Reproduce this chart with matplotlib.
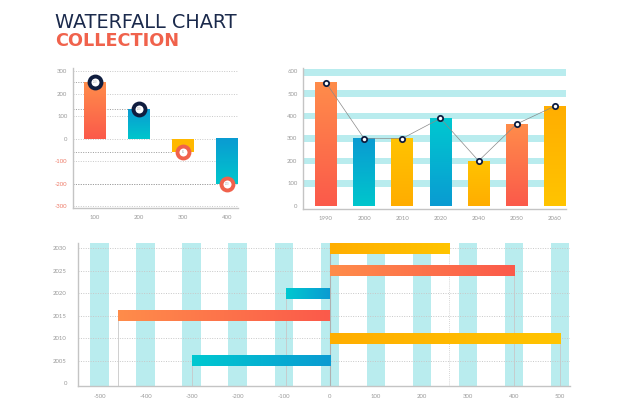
import numpy as np
import matplotlib
matplotlib.use("Agg")
import matplotlib.pyplot as plt
from matplotlib.colors import to_rgb

# ---------------- data ----------------
wf_x = [100, 200, 300, 400]
wf_vals = [250, 130, -60, -200]
wf_yticks = [300, 200, 100, 0, -100, -200, -300]

bar_years = ['1990', '2000', '2010', '2020', '2040', '2050', '2060']
bar_vals = [550, 300, 300, 390, 200, 365, 445]
bar_yticks = [0, 100, 200, 300, 400, 500, 600]

h_labels = ['0', '2005', '2010', '2015', '2020', '2025', '2030']
h_vals = [0, -300, 500, -460, -95, 400, 260]
h_xticks = [-500, -400, -300, -200, -100, 0, 100, 200, 300, 400, 500]

# ---------------- styles ----------------
ORANGE = ('#ff8c4a', '#fb5a4b')    # (start, end)
BLUE = ('#0a9bd2', '#00c6cc')
CYAN = ('#00c8d0', '#0a9bd2')
YELLOW = ('#ffc300', '#ffad00')
YELLOW2 = ('#ffae00', '#ffc400')
NAVY = '#0f1d3f'
CORAL = '#f0624c'
BAND = '#b9ecee'
GRID = '#c8c8c8'
AXC = '#c4c4c4'
TICKC = '#9a9a9a'
FONT = ['Lato', 'DejaVu Sans']
TFONT = ['DejaVu Sans']

plt.rcParams['font.family'] = FONT

W, H = 626, 417
fig = plt.figure(figsize=(W / 100, H / 100), dpi=100)


def fax(l, t, r, b):
    return fig.add_axes([l / W, 1 - b / H, (r - l) / W, (b - t) / H])


def grad(ax, x0, x1, y0, y1, c_a, c_b, vertical=True, z=3):
    """vertical: c_a at top, c_b at bottom; horizontal: c_a left, c_b right"""
    n = 64
    t = np.linspace(0, 1, n)[:, None]
    a = np.array(to_rgb(c_a))[None, :]
    b = np.array(to_rgb(c_b))[None, :]
    if vertical:
        arr = (b * (1 - t) + a * t)[:, None, :]   # bottom -> top
    else:
        arr = (a * (1 - t) + b * t)[None, :, :]   # left -> right
    ax.imshow(arr, extent=(min(x0, x1), max(x0, x1), min(y0, y1), max(y0, y1)),
              origin='lower', aspect='auto', interpolation='bilinear', zorder=z)


def style_axes(ax):
    for s in ['top', 'right']:
        ax.spines[s].set_visible(False)
    for s in ['left', 'bottom']:
        ax.spines[s].set_color(AXC)
        ax.spines[s].set_linewidth(1.0)
    ax.tick_params(length=0, labelsize=4.3, colors=TICKC, pad=4)
    ax.set_facecolor('none')


# ---------------- title ----------------
fig.text(55 / W, 1 - 28.5 / H, 'WATERFALL CHART', fontsize=13.9, color='#1b2a4c',
         family=TFONT, va='baseline', ha='left')
fig.text(55 / W, 1 - 46.5 / H, 'COLLECTION', fontsize=12.7, color=CORAL,
         family=TFONT, fontweight='bold', va='baseline', ha='left')

# ---------------- chart 1: waterfall ----------------
ax1 = fax(73, 68, 238, 208)
style_axes(ax1)
ax1.set_xlim(50, 425)
ax1.set_ylim(-307, 313)
for v in wf_yticks:
    ax1.axhline(v, color=GRID, lw=0.7, ls=(0, (1, 1.5)), zorder=1)
wf_cols = [ORANGE, BLUE, None, BLUE]
bw = 48
for i, (x, v) in enumerate(zip(wf_x, wf_vals)):
    ax1.plot([50, x - bw / 2], [v, v], color='#9a9a9a', lw=0.7, ls=(0, (1, 1.5)), zorder=2)
    if wf_cols[i] is None:
        ax1.bar(x, v, width=bw, color='#ffb800', zorder=3)
    else:
        grad(ax1, x - bw / 2, x + bw / 2, 0, v, wf_cols[i][0], wf_cols[i][1])
    ring = NAVY if v > 0 else CORAL
    ax1.plot(x, v, 'o', ms=8.6, mfc='white', mec=ring, mew=2.8, zorder=5)
    ax1.text(x, v, str(abs(v)), fontsize=1.8, color='#b0b0b0', ha='center', va='center', zorder=6)
ax1.set_xticks(wf_x)
ax1.set_xticklabels([str(x) for x in wf_x])
ax1.set_yticks(wf_yticks)
ax1.set_yticklabels([str(v) for v in wf_yticks])
for lab, v in zip(ax1.get_yticklabels(), wf_yticks):
    if v < 0:
        lab.set_color('#ee7b68')
ax1.tick_params(axis='x', pad=5)

# ---------------- chart 2: bar + line ----------------
ax2 = fax(303, 68, 566, 209)
style_axes(ax2)
xs = np.arange(len(bar_years))
ax2.set_xlim(-0.6, 6.29)
ax2.set_ylim(-15, 615)
for v in bar_yticks[1:]:
    c = v if v < 600 else 595
    ax2.axhspan(c - 15, c + 15, color=BAND, lw=0, zorder=1)
bar_cols = [ORANGE, BLUE, YELLOW, CYAN, YELLOW, ORANGE, YELLOW2]
bwid = 0.57
for x, v, c in zip(xs, bar_vals, bar_cols):
    grad(ax2, x - bwid / 2, x + bwid / 2, 0, v, c[0], c[1])
ax2.plot(xs, bar_vals, color='#8a8a8a', lw=0.5, zorder=4)
ax2.plot(xs, bar_vals, 'o', ms=3.8, mfc='white', mec=NAVY, mew=1.3, zorder=5)
ax2.set_xticks(xs)
ax2.set_xticklabels(bar_years)
ax2.set_yticks(bar_yticks)
ax2.set_yticklabels([str(v) for v in bar_yticks])
ax2.tick_params(axis='x', pad=5)

# ---------------- chart 3: horizontal ----------------
ax3 = fax(78, 243, 570, 386)
style_axes(ax3)
ax3.set_xlim(-547, 522)
ax3.set_ylim(-0.12, 6.24)
for x in h_xticks:
    ax3.axvspan(x - 20, x + 20, color=BAND, lw=0, zorder=1)
ys = np.arange(len(h_labels))
for y in ys[1:]:
    ax3.axhline(y, color=GRID, lw=0.7, ls=(0, (1, 1.5)), zorder=2)
ax3.axvline(0, color='#b0b0b0', lw=0.8, zorder=2)
h_cols = [None, CYAN, YELLOW2, ORANGE, CYAN, ORANGE, YELLOW2]
hh = 0.47
for y, v, c in zip(ys, h_vals, h_cols):
    if c is None or v == 0:
        continue
    ls = (0, (1, 1.5)) if y == 6 else '-'
    ax3.plot([v, v], [-0.12, y], color='#c8c8c8', lw=0.6, ls=ls, zorder=2)
    grad(ax3, 0, v, y - hh / 2, y + hh / 2, c[0], c[1], vertical=False)
ax3.set_yticks(ys)
ax3.set_yticklabels(h_labels)
ax3.set_xticks(h_xticks)
ax3.set_xticklabels([str(x) for x in h_xticks])
ax3.tick_params(axis='x', pad=6)
ax3.tick_params(axis='y', pad=8)

fig.savefig('out.png', dpi=100, facecolor='white')
